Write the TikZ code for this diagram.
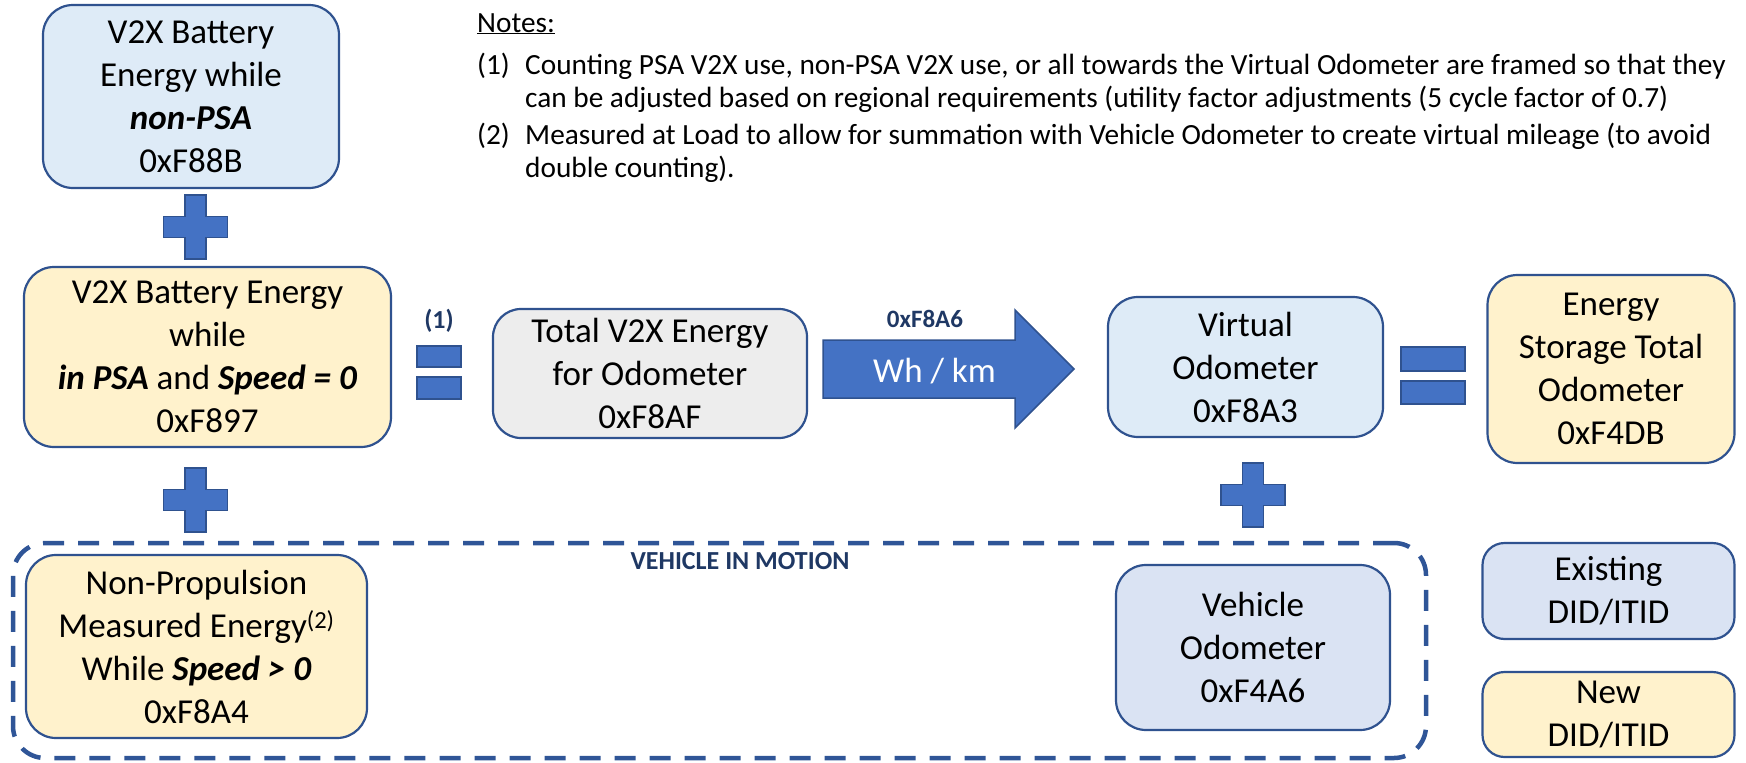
\documentclass[tikz,border=0pt]{standalone}
\usepackage{fontspec}
\setmainfont{Carlito}
\definecolor{bordc}{HTML}{2F528F}
\definecolor{plusc}{HTML}{4472C4}
\definecolor{navy}{HTML}{1F3864}
\definecolor{dashc}{HTML}{2F5597}
\definecolor{lblue}{HTML}{DEEBF7}
\definecolor{lblue2}{HTML}{DAE3F3}
\definecolor{lyel}{HTML}{FFF2CC}
\definecolor{lgrey}{HTML}{EDEDED}
\tikzset{
  box/.style={draw=bordc, line width=2.2pt, rounded corners=30pt, align=center,
    font=\fontsize{35}{43}\selectfont, inner sep=0pt},
  notetext/.style={anchor=base west, inner sep=0pt, font=\fontsize{29.3}{35}\selectfont},
  navylbl/.style={text=navy, font=\bfseries\fontsize{24}{28}\selectfont, inner sep=0pt},
  signfill/.style={fill=plusc, draw=bordc, line width=1.5pt},
  plussign/.pic={\path[signfill] (-32,-10.5) -- (-10.5,-10.5) -- (-10.5,-32) -- (10.5,-32) -- (10.5,-10.5) -- (32,-10.5) -- (32,10.5) -- (10.5,10.5) -- (10.5,32) -- (-10.5,32) -- (-10.5,10.5) -- (-32,10.5) -- cycle;}
}
\begin{document}
\begin{tikzpicture}[x=1pt,y=-1pt]
\useasboundingbox (0,0) rectangle (1746,763);

% dashed motion frame
\node[draw=dashc, line width=4.5pt, dash pattern=on 21pt off 14pt, rounded corners=32pt,
  minimum width=1413pt, minimum height=215pt, inner sep=0pt] (motion) at (719.5,650.5) {};
\node[navylbl, font=\bfseries\fontsize{26}{30}\selectfont] (motionlbl) at (740,561) {VEHICLE IN MOTION};

% boxes
\node[box, fill=lblue, minimum width=296pt, minimum height=183pt] (nonpsa) at (191,96.5)
  {V2X Battery\\Energy while\\\textbf{\textit{non-PSA}}\\0xF88B};
\node[box, fill=lyel, minimum width=367pt, minimum height=180pt] (inpsa) at (207.5,357)
  {V2X Battery Energy\\while\\\textbf{\textit{in PSA}} and \textbf{\textit{Speed = 0}}\\0xF897};
\node[box, fill=lgrey, rounded corners=28pt, minimum width=314pt, minimum height=129pt] (total) at (650,373.5)
  {Total V2X Energy\\for Odometer\\0xF8AF};
\node[box, fill=lblue, minimum width=275pt, minimum height=140pt] (virtual) at (1245.5,367)
  {Virtual\\Odometer\\0xF8A3};
\node[box, fill=lyel, minimum width=247pt, minimum height=188pt] (estodo) at (1611,369)
  {Energy\\Storage Total\\Odometer\\0xF4DB};
\node[box, fill=lyel, minimum width=341pt, minimum height=183pt] (nonprop) at (196.5,646.5)
  {Non-Propulsion\\Measured Energy\textsuperscript{(2)}\\While \textbf{\textit{Speed > 0}}\\0xF8A4};
\node[box, fill=lblue2, minimum width=274pt, minimum height=165pt] (vehodo) at (1253,647.5)
  {Vehicle\\Odometer\\0xF4A6};
\node[box, fill=lblue2, rounded corners=22pt, minimum width=252pt, minimum height=96pt] (existing) at (1608.5,591)
  {Existing\\DID/ITID};
\node[box, fill=lyel, rounded corners=22pt, minimum width=252pt, minimum height=85pt] (new) at (1608.5,714.5)
  {New\\DID/ITID};

% plus signs
\pic at (195.5,227) {plussign};
\pic at (195.5,500) {plussign};
\pic at (1253,495) {plussign};

% equal signs
\path[signfill] (417,346) rectangle (461,367);
\path[signfill] (417,377) rectangle (461,399);
\path[signfill] (1401,347) rectangle (1465,371);
\path[signfill] (1401,381) rectangle (1465,404);
\node[navylbl, font=\bfseries\fontsize{26}{30}\selectfont] (eqnote) at (439,321) {(1)};

% big arrow
\path[signfill] (823,340) -- (1015,340) -- (1015,310) -- (1074,369) -- (1015,428) -- (1015,398) -- (823,398) -- cycle;
\node[text=white, font=\fontsize{35}{43}\selectfont, inner sep=0pt, anchor=base] (rate) at (934.5,382) {Wh / km};
\node[navylbl, font=\bfseries\fontsize{25}{29}\selectfont] (ratedid) at (925,319) {0xF8A6};

% notes
\node[notetext] (notesh) at (477,32) {\underline{Notes:}};
\node[notetext] (n1) at (477,74) {(1)};
\node[notetext] (n1a) at (525,74) {Counting PSA V2X use, non-PSA V2X use, or all towards the Virtual Odometer are framed so that they};
\node[notetext] (n1b) at (525,107) {can be adjusted based on regional requirements (utility factor adjustments (5 cycle factor of 0.7)};
\node[notetext] (n2) at (477,144) {(2)};
\node[notetext] (n2a) at (525,144) {Measured at Load to allow for summation with Vehicle Odometer to create virtual mileage (to avoid};
\node[notetext] (n2b) at (525,177) {double counting).};
\end{tikzpicture}
\end{document}
